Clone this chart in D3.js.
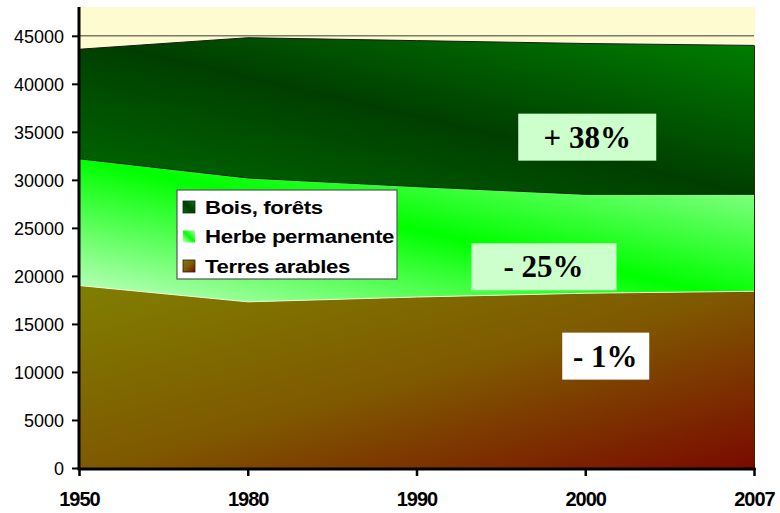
<meta charset="utf-8">
<style>
	body {
		margin: 0;
		background-color: #fff;
	}

	.axis text {
		font-family: Arial, "Liberation Sans", sans-serif;
		fill: #000;
	}
</style>

<body>
<script src="https://cdn.jsdelivr.net/npm/d3@7/dist/d3.min.js"></script>

<svg id="svg"></svg>

<script>

// DATA
var years = [ '1950', '1980', '1990', '2000', '2007' ]
var terres = [ 19000, 17300, 17800, 18200, 18400 ]
var herbe = [ 13200, 12900, 11500, 10300, 10100 ]
var bois = [ 11400, 14600, 15200, 15700, 15500 ]
var yTicks = [ 0, 5000, 10000, 15000, 20000, 25000, 30000, 35000, 40000, 45000 ]
var legendNames = [ 'Bois, forêts', 'Herbe permanente', 'Terres arables' ]
var badges = [
	{ text: '+ 38%', year: '2000', value: 34500, fill: '#ccffcc' },
	{ text: '- 25%', year: '1990', value: 21000, fill: '#ccffcc' },
	{ text: '- 1%', year: '2000', value: 11700, fill: '#ffffff' }
]

// CANVAS
var width = 780
var height = 513

var svg = d3.select( '#svg' )
	.attr( 'width', width )
	.attr( 'height', height )

var x = d3.scalePoint()
	.domain( years )
	.range([ 79, 754 ])

var y = d3.scaleLinear()
	.domain([ 0, 48000 ])
	.range([ 468, 7 ])

// GRADIENTS
var defs = svg.append( 'defs' )

function gradient( id, x1, y1, x2, y2, stops ){
	var g = defs.append( 'linearGradient' )
		.attr( 'id', id )
		.attr( 'x1', x1 ).attr( 'y1', y1 )
		.attr( 'x2', x2 ).attr( 'y2', y2 )
	stops.forEach( s => {
		g.append( 'stop' )
			.attr( 'offset', s[0] )
			.attr( 'stop-color', s[1] )
	})
}

gradient( 'gBois', 0, 1, 1, 0, [[ 0, '#006c00' ], [ 0.5, '#003e00' ], [ 1, '#008000' ]])
gradient( 'gHerbe', 0, 1, 1, 0, [[ 0, '#c8ffc8' ], [ 0.5, '#00ff00' ], [ 1, '#a8ffa8' ]])
gradient( 'gTerres', 0, 0, 1, 1, [[ 0, '#807f00' ], [ 0.5, '#7f5a00' ], [ 1, '#7a0a00' ]])

// BACKGROUND
svg.append( 'rect' )
	.attr( 'x', x( years[0] ) )
	.attr( 'y', y( 48000 ) )
	.attr( 'width', x( years[ years.length - 1 ] ) - x( years[0] ) + 1 )
	.attr( 'height', y( 0 ) - y( 48000 ) )
	.attr( 'fill', '#fffbd0' )

// grid line at the top tick
svg.append( 'line' )
	.attr( 'x1', x( years[0] ) )
	.attr( 'x2', x( years[ years.length - 1 ] ) )
	.attr( 'y1', y( 45000 ) )
	.attr( 'y2', y( 45000 ) )
	.attr( 'stroke', '#7a7a6a' )
	.attr( 'stroke-width', 1.6 )

// STACK
var table = years.map( ( yr, i ) => {
	return { year: yr, terres: terres[i], herbe: herbe[i], bois: bois[i] }
})

var series = d3.stack()
	.keys([ 'terres', 'herbe', 'bois' ])( table )

var fills = { terres: 'url(#gTerres)', herbe: 'url(#gHerbe)', bois: 'url(#gBois)' }
var edges = { terres: '#e8f8d0', herbe: '#1a1a1a', bois: '#1a1a1a' }

var area = d3.area()
	.x( d => x( d.data.year ))
	.y0( d => y( d[0] ))
	.y1( d => y( d[1] ))

var topLine = d3.line()
	.x( d => x( d.data.year ))
	.y( d => y( d[1] ))

svg.append( 'g' ).selectAll( 'path' )
	.data( series )
	.enter()
	.append( 'path' )
		.attr( 'd', area )
		.attr( 'fill', d => fills[ d.key ] )

svg.append( 'g' ).selectAll( 'path' )
	.data( series )
	.enter()
	.append( 'path' )
		.attr( 'd', d => topLine( d ))
		.attr( 'fill', 'none' )
		.attr( 'stroke', d => edges[ d.key ] )
		.attr( 'stroke-width', 1 )

// right edge
svg.append( 'line' )
	.attr( 'x1', x( '2007' ) + 0.5 )
	.attr( 'x2', x( '2007' ) + 0.5 )
	.attr( 'y1', y( 0 ) )
	.attr( 'y2', y( series[2][4][1] ) )
	.attr( 'stroke', '#2a2a00' )
	.attr( 'stroke-width', 1 )

// BADGES
var badge = svg.append( 'g' ).selectAll( 'g' )
	.data( badges )
	.enter()
	.append( 'g' )
		.attr( 'transform', d => 'translate(' + ( x( d.year ) + ( d.text == '- 25%' ? 124 : ( d.text == '- 1%' ? 20 : 2 ))) + ',' + y( d.value ) + ')' )

badge.append( 'rect' )
	.attr( 'x', d => d.text == '- 1%' ? -43 : -69 )
	.attr( 'y', -23 )
	.attr( 'width', d => d.text == '- 1%' ? 87 : ( d.text == '- 25%' ? 145 : 138 ))
	.attr( 'height', 47 )
	.attr( 'fill', d => d.fill )

badge.append( 'text' )
	.attr( 'x', d => d.text == '- 25%' ? 3 : 0 )
	.attr( 'y', 11 )
	.attr( 'text-anchor', 'middle' )
	.style( 'font-family', '"Liberation Serif", "Times New Roman", serif' )
	.style( 'font-weight', 'bold' )
	.style( 'font-size', '31px' )
	.text( d => d.text )

// AXES
var yAxis = svg.append( 'g' )
	.attr( 'class', 'axis' )
	.attr( 'transform', 'translate(' + x( years[0] ) + ',0)' )
	.call( d3.axisLeft( y ).tickValues( yTicks ).tickSize( 7 ).tickPadding( 8 ).tickFormat( d3.format( 'd' )))

yAxis.select( '.domain' ).remove()
yAxis.selectAll( 'line' ).attr( 'stroke', '#000' ).attr( 'stroke-width', 2 )
yAxis.selectAll( 'text' ).style( 'font-size', '18px' ).attr( 'dy', '0.36em' )

var xAxis = svg.append( 'g' )
	.attr( 'class', 'axis' )
	.attr( 'transform', 'translate(0,' + y( 0 ) + ')' )
	.call( d3.axisBottom( x ).tickSize( 8 ).tickPadding( 16 ))

xAxis.select( '.domain' ).remove()
xAxis.selectAll( 'line' ).attr( 'stroke', '#000' ).attr( 'stroke-width', 2.5 )
xAxis.selectAll( 'text' ).style( 'font-size', '20px' ).style( 'font-weight', 'bold' ).style( 'letter-spacing', '-1px' )

svg.append( 'line' )
	.attr( 'x1', x( years[0] ) )
	.attr( 'x2', x( years[0] ) )
	.attr( 'y1', y( 48000 ) )
	.attr( 'y2', y( 0 ) + 2 )
	.attr( 'stroke', '#000' )
	.attr( 'stroke-width', 3 )

svg.append( 'line' )
	.attr( 'x1', x( years[0] ) - 1.5 )
	.attr( 'x2', x( years[ years.length - 1 ] ) + 1.5 )
	.attr( 'y1', y( 0 ) + 1 )
	.attr( 'y2', y( 0 ) + 1 )
	.attr( 'stroke', '#000' )
	.attr( 'stroke-width', 3 )

// LEGEND
var legend = svg.append( 'g' )
	.attr( 'transform', 'translate(177,190)' )

legend.append( 'rect' )
	.attr( 'width', 220 )
	.attr( 'height', 89 )
	.attr( 'fill', '#fff' )
	.attr( 'stroke', '#555' )
	.attr( 'stroke-width', 1.2 )

var legendFills = [ 'url(#gBois)', 'url(#gHerbe)', 'url(#gTerres)' ]

var item = legend.selectAll( '.item' )
	.data( legendNames )
	.enter()
	.append( 'g' )
		.attr( 'class', 'item' )
		.attr( 'transform', ( d, i ) => 'translate(6,' + ( 11 + i * 29.5 ) + ')' )

item.append( 'rect' )
	.attr( 'width', 12 )
	.attr( 'height', 12 )
	.attr( 'fill', ( d, i ) => legendFills[i] )
	.attr( 'stroke', ( d, i ) => i == 1 ? 'none' : '#222' )
	.attr( 'stroke-width', 0.8 )

item.append( 'text' )
	.attr( 'transform', 'translate(22,12.5) scale(1.2,1)' )
	.style( 'font-family', 'Arial, "Liberation Sans", sans-serif' )
	.style( 'font-weight', 'bold' )
	.style( 'font-size', '18.5px' )
	.style( 'letter-spacing', '-0.3px' )
	.text( d => d )

</script>
</body>
